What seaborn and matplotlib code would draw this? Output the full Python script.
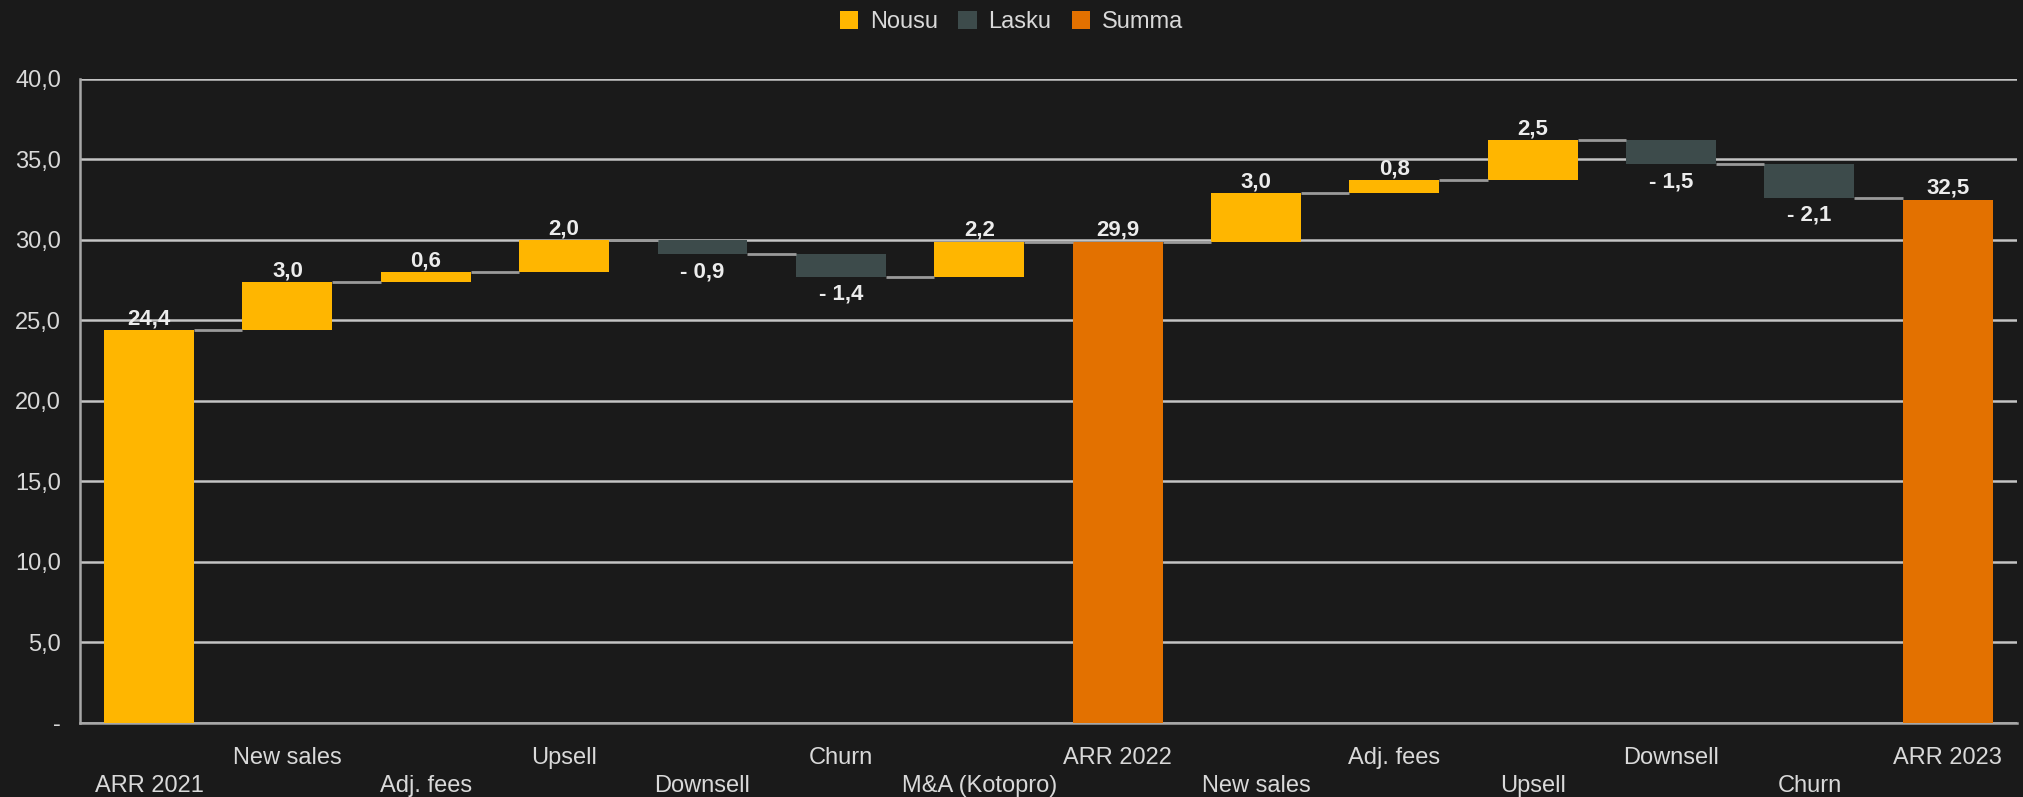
import matplotlib
matplotlib.use("Agg")
import matplotlib.pyplot as plt
import seaborn as sns
import pandas as pd
import numpy as np
from matplotlib.patches import Patch

categories = ["ARR 2021", "New sales", "Adj. fees", "Upsell", "Downsell", "Churn",
              "M&A (Kotopro)", "ARR 2022", "New sales ", "Adj. fees ", "Upsell ",
              "Downsell ", "Churn ", "ARR 2023"]
values = [24.4, 3.0, 0.6, 2.0, -0.9, -1.4, 2.2, 29.9, 3.0, 0.8, 2.5, -1.5, -2.1, 32.5]
kinds = ["Nousu", "Nousu", "Nousu", "Nousu", "Lasku", "Lasku", "Nousu", "Summa",
         "Nousu", "Nousu", "Nousu", "Lasku", "Lasku", "Summa"]
legend_labels = ["Nousu", "Lasku", "Summa"]
colors = {"Nousu": "#FFB600", "Lasku": "#3D4B4B", "Summa": "#E37100"}
yticks = [0, 5, 10, 15, 20, 25, 30, 35, 40]

BG = "#1a1a1a"
TXT = "#d9d9d9"

# compute bottoms / tops
bottoms, tops = [], []
running = 0.0
for v, k in zip(values, kinds):
    if k == "Summa":
        b, t = 0.0, v
        running = v
    elif v >= 0:
        b, t = running, running + v
        running = t
    else:
        b, t = running + v, running
        running = b
    bottoms.append(b)
    tops.append(t)

df = pd.DataFrame({"cat": categories, "height": [abs(t - b) for b, t in zip(bottoms, tops)],
                   "kind": kinds})

sns.set_theme(style="dark")
plt.rcParams["font.family"] = ["Liberation Sans", "DejaVu Sans"]

fig = plt.figure(figsize=(20.23, 7.97), dpi=100, facecolor=BG)
ax = fig.add_axes([0.0395, 0.093, 0.9575, 0.808])
ax.set_facecolor(BG)

width = 0.65
sns.barplot(data=df, x="cat", y="height", hue="kind", order=categories,
            hue_order=legend_labels, palette=colors, dodge=False, width=width,
            saturation=1, ax=ax, legend=False, zorder=3)

for p in ax.patches:
    cx = p.get_x() + p.get_width() / 2
    i = int(round(cx))
    if 0 <= i < len(categories) and p.get_height() > 0:
        p.set_y(bottoms[i])
        p.set_edgecolor("none")

# connectors
for i in range(len(categories) - 1):
    v, k = values[i], kinds[i]
    lvl = tops[i] if (k == "Summa" or v >= 0) else bottoms[i]
    ax.plot([i + width / 2, i + 1 - width / 2], [lvl, lvl], color="#9a9a9a",
            lw=2, zorder=4, solid_capstyle="butt")

# value labels
for i, (v, k) in enumerate(zip(values, kinds)):
    if k == "Summa" or v >= 0:
        txt = f"{v:.1f}".replace(".", ",")
        ax.annotate(txt, (i, tops[i]), xytext=(0, 0.5), textcoords="offset points",
                    ha="center", va="bottom", color="#ececec", fontsize=16,
                    fontweight="bold", zorder=6)
    else:
        txt = "- " + f"{abs(v):.1f}".replace(".", ",")
        ax.annotate(txt, (i, bottoms[i]), xytext=(0, -5), textcoords="offset points",
                    ha="center", va="top", color="#ececec", fontsize=16,
                    fontweight="bold", zorder=6)

ax.set_ylim(0, 40)
ax.set_xlim(-0.5, len(categories) - 0.5)
ax.set_yticks(yticks)
ax.set_yticklabels(["-" if t == 0 else f"{t:.1f}".replace(".", ",") for t in yticks])
ax.yaxis.grid(True, color="#c4c4c4", lw=1.8, zorder=1)
ax.xaxis.grid(False)
ax.set_axisbelow(True)

ax.set_xticks(range(len(categories)))
xl = [("\n" + c.strip()) if i % 2 == 0 else c.strip() for i, c in enumerate(categories)]
ax.set_xticklabels(xl)
for i, lab in enumerate(ax.get_xticklabels()):
    lab.set_linespacing(1.36)
ax.tick_params(axis="x", length=0, pad=17.5, labelsize=17, labelcolor=TXT)
ax.tick_params(axis="y", length=0, pad=13.5, labelsize=17, labelcolor=TXT)
ax.set_xlabel("")
ax.set_ylabel("")

for s in ["top", "right"]:
    ax.spines[s].set_visible(False)
for s in ["left", "bottom"]:
    ax.spines[s].set_visible(True)
    ax.spines[s].set_color("#a8a8a8")
    ax.spines[s].set_linewidth(1.8)

handles = [Patch(facecolor=colors[k], edgecolor="none", label=k) for k in legend_labels]
fig.legend(handles=handles, loc="center", bbox_to_anchor=(0.5, 0.972), ncol=3,
           frameon=False, fontsize=17, labelcolor=TXT, handlelength=0.78,
           handleheight=0.8, handletextpad=0.5, columnspacing=0.85)

fig.savefig("out.png", dpi=100, facecolor=BG)
